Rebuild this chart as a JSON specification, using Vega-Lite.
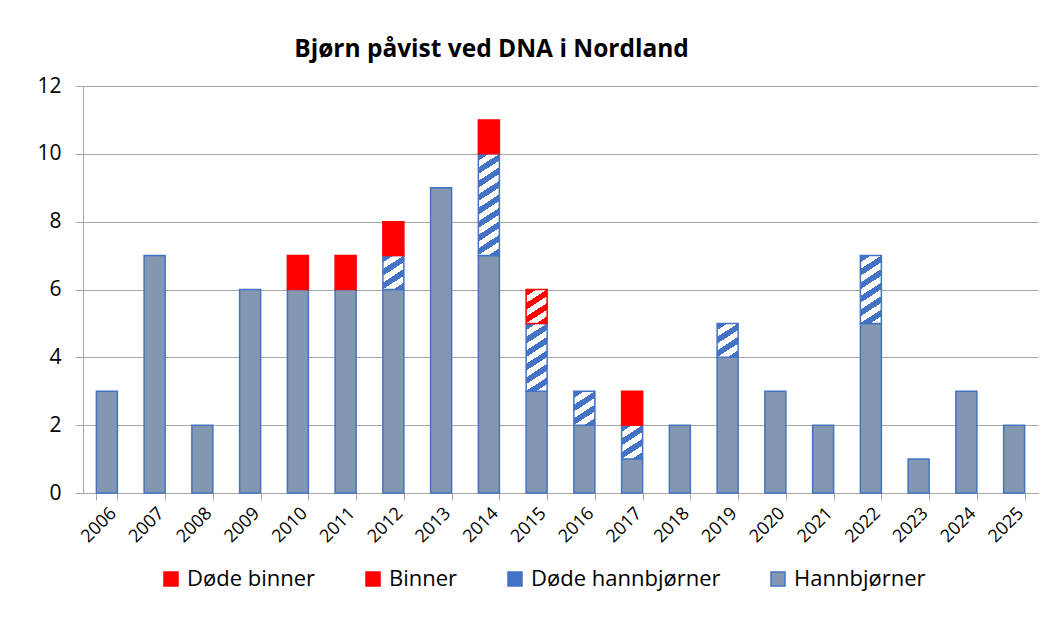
{
  "$schema": "https://vega.github.io/schema/vega-lite/v6.json",
  "autosize": {"type": "none"},
  "padding": {"left": 83, "top": 86, "right": 25, "bottom": 126},
  "width": 955,
  "height": 407,
  "background": "white",
  "title": {"text": "Bjørn påvist ved DNA i Nordland", "font": "Open Sans", "fontSize": 24.5, "fontWeight": "bold", "color": "#000000", "anchor": "middle", "dx": -69, "offset": 13},
  "data": {"values": [
    {"year": "2006", "type": "Hannbjørner", "n": 3},
    {"year": "2007", "type": "Hannbjørner", "n": 7},
    {"year": "2008", "type": "Hannbjørner", "n": 2},
    {"year": "2009", "type": "Hannbjørner", "n": 6},
    {"year": "2010", "type": "Hannbjørner", "n": 6},
    {"year": "2010", "type": "Binner", "n": 1},
    {"year": "2011", "type": "Hannbjørner", "n": 6},
    {"year": "2011", "type": "Binner", "n": 1},
    {"year": "2012", "type": "Hannbjørner", "n": 6},
    {"year": "2012", "type": "Døde hannbjørner", "n": 1},
    {"year": "2012", "type": "Binner", "n": 1},
    {"year": "2013", "type": "Hannbjørner", "n": 9},
    {"year": "2014", "type": "Hannbjørner", "n": 7},
    {"year": "2014", "type": "Døde hannbjørner", "n": 3},
    {"year": "2014", "type": "Binner", "n": 1},
    {"year": "2015", "type": "Hannbjørner", "n": 3},
    {"year": "2015", "type": "Døde hannbjørner", "n": 2},
    {"year": "2015", "type": "Døde binner", "n": 1},
    {"year": "2016", "type": "Hannbjørner", "n": 2},
    {"year": "2016", "type": "Døde hannbjørner", "n": 1},
    {"year": "2017", "type": "Hannbjørner", "n": 1},
    {"year": "2017", "type": "Døde hannbjørner", "n": 1},
    {"year": "2017", "type": "Binner", "n": 1},
    {"year": "2018", "type": "Hannbjørner", "n": 2},
    {"year": "2019", "type": "Hannbjørner", "n": 4},
    {"year": "2019", "type": "Døde hannbjørner", "n": 1},
    {"year": "2020", "type": "Hannbjørner", "n": 3},
    {"year": "2021", "type": "Hannbjørner", "n": 2},
    {"year": "2022", "type": "Hannbjørner", "n": 5},
    {"year": "2022", "type": "Døde hannbjørner", "n": 2},
    {"year": "2023", "type": "Hannbjørner", "n": 1},
    {"year": "2024", "type": "Hannbjørner", "n": 3},
    {"year": "2025", "type": "Hannbjørner", "n": 2}
  ]},
  "transform": [
    {"calculate": "indexof(['Hannbjørner','Døde hannbjørner','Binner','Døde binner'], datum.type)", "as": "ord"}
  ],
  "mark": {"type": "bar", "strokeWidth": 1.5},
  "encoding": {
    "x": {
      "field": "year", "type": "ordinal",
      "scale": {"paddingInner": 0.56, "paddingOuter": 0.28},
      "axis": {"title": null, "labelAngle": -45, "labelFont": "Open Sans", "labelFontSize": 18, "labelColor": "#000000", "tickBand": "extent", "tickSize": 7, "tickColor": "#A6A6A6", "domainColor": "#A6A6A6", "labelPadding": 4, "grid": false}
    },
    "y": {
      "field": "n", "type": "quantitative", "stack": "zero",
      "scale": {"domain": [0, 12], "nice": false},
      "axis": {"title": null, "values": [0, 2, 4, 6, 8, 10, 12], "labelFont": "Open Sans", "labelFontSize": 21, "labelColor": "#000000", "tickSize": 8, "tickColor": "#A6A6A6", "domainColor": "#A6A6A6", "gridColor": "#A6A6A6", "labelPadding": 14}
    },
    "order": {"field": "ord", "type": "quantitative"},
    "fill": {
      "field": "type", "type": "nominal",
      "scale": {"domain": ["Døde binner", "Binner", "Døde hannbjørner", "Hannbjørner"], "range": ["#FF0000", "#FF0000", "#4472C4", "#8497B0"]},
      "condition": [
        {"test": "datum.type === 'Døde hannbjørner' && datum.n === 1", "value": {"gradient": "linear", "x1": 0, "y1": 0, "x2": 0.486, "y2": 1.207, "stops": [
          {"offset": 0, "color": "#4472C4"}, {"offset": 0.142, "color": "#4472C4"}, {"offset": 0.142, "color": "#FFFFFF"}, {"offset": 0.284, "color": "#FFFFFF"},
          {"offset": 0.284, "color": "#4472C4"}, {"offset": 0.426, "color": "#4472C4"}, {"offset": 0.426, "color": "#FFFFFF"}, {"offset": 0.568, "color": "#FFFFFF"},
          {"offset": 0.568, "color": "#4472C4"}, {"offset": 0.710, "color": "#4472C4"}, {"offset": 0.710, "color": "#FFFFFF"}, {"offset": 0.852, "color": "#FFFFFF"},
          {"offset": 0.852, "color": "#4472C4"}, {"offset": 0.994, "color": "#4472C4"}, {"offset": 0.994, "color": "#FFFFFF"}, {"offset": 1, "color": "#FFFFFF"}]}},
        {"test": "datum.type === 'Døde hannbjørner' && datum.n === 2", "value": {"gradient": "linear", "x1": 0, "y1": 0, "x2": 0.2325, "y2": 1.1545, "stops": [
          {"offset": 0, "color": "#4472C4"}, {"offset": 0.0829, "color": "#4472C4"}, {"offset": 0.0829, "color": "#FFFFFF"}, {"offset": 0.1658, "color": "#FFFFFF"},
          {"offset": 0.1658, "color": "#4472C4"}, {"offset": 0.2486, "color": "#4472C4"}, {"offset": 0.2486, "color": "#FFFFFF"}, {"offset": 0.3315, "color": "#FFFFFF"},
          {"offset": 0.3315, "color": "#4472C4"}, {"offset": 0.4144, "color": "#4472C4"}, {"offset": 0.4144, "color": "#FFFFFF"}, {"offset": 0.4973, "color": "#FFFFFF"},
          {"offset": 0.4973, "color": "#4472C4"}, {"offset": 0.5801, "color": "#4472C4"}, {"offset": 0.5801, "color": "#FFFFFF"}, {"offset": 0.6630, "color": "#FFFFFF"},
          {"offset": 0.6630, "color": "#4472C4"}, {"offset": 0.7459, "color": "#4472C4"}, {"offset": 0.7459, "color": "#FFFFFF"}, {"offset": 0.8288, "color": "#FFFFFF"},
          {"offset": 0.8288, "color": "#4472C4"}, {"offset": 0.9116, "color": "#4472C4"}, {"offset": 0.9116, "color": "#FFFFFF"}, {"offset": 0.9945, "color": "#FFFFFF"},
          {"offset": 0.9945, "color": "#4472C4"}, {"offset": 1, "color": "#4472C4"}]}},
        {"test": "datum.type === 'Døde hannbjørner' && datum.n === 3", "value": {"gradient": "linear", "x1": 0, "y1": 0, "x2": 0.1495, "y2": 1.1141, "stops": [
          {"offset": 0, "color": "#4472C4"}, {"offset": 0.0585, "color": "#4472C4"}, {"offset": 0.0585, "color": "#FFFFFF"}, {"offset": 0.1170, "color": "#FFFFFF"},
          {"offset": 0.1170, "color": "#4472C4"}, {"offset": 0.1756, "color": "#4472C4"}, {"offset": 0.1756, "color": "#FFFFFF"}, {"offset": 0.2341, "color": "#FFFFFF"},
          {"offset": 0.2341, "color": "#4472C4"}, {"offset": 0.2926, "color": "#4472C4"}, {"offset": 0.2926, "color": "#FFFFFF"}, {"offset": 0.3511, "color": "#FFFFFF"},
          {"offset": 0.3511, "color": "#4472C4"}, {"offset": 0.4096, "color": "#4472C4"}, {"offset": 0.4096, "color": "#FFFFFF"}, {"offset": 0.4681, "color": "#FFFFFF"},
          {"offset": 0.4681, "color": "#4472C4"}, {"offset": 0.5267, "color": "#4472C4"}, {"offset": 0.5267, "color": "#FFFFFF"}, {"offset": 0.5852, "color": "#FFFFFF"},
          {"offset": 0.5852, "color": "#4472C4"}, {"offset": 0.6437, "color": "#4472C4"}, {"offset": 0.6437, "color": "#FFFFFF"}, {"offset": 0.7022, "color": "#FFFFFF"},
          {"offset": 0.7022, "color": "#4472C4"}, {"offset": 0.7607, "color": "#4472C4"}, {"offset": 0.7607, "color": "#FFFFFF"}, {"offset": 0.8193, "color": "#FFFFFF"},
          {"offset": 0.8193, "color": "#4472C4"}, {"offset": 0.8778, "color": "#4472C4"}, {"offset": 0.8778, "color": "#FFFFFF"}, {"offset": 0.9363, "color": "#FFFFFF"},
          {"offset": 0.9363, "color": "#4472C4"}, {"offset": 0.9948, "color": "#4472C4"}, {"offset": 0.9948, "color": "#FFFFFF"}, {"offset": 1, "color": "#FFFFFF"}]}},
        {"test": "datum.type === 'Døde binner'", "value": {"gradient": "linear", "x1": 0, "y1": 0, "x2": 0.486, "y2": 1.207, "stops": [
          {"offset": 0, "color": "#FF0000"}, {"offset": 0.142, "color": "#FF0000"}, {"offset": 0.142, "color": "#FFFFFF"}, {"offset": 0.284, "color": "#FFFFFF"},
          {"offset": 0.284, "color": "#FF0000"}, {"offset": 0.426, "color": "#FF0000"}, {"offset": 0.426, "color": "#FFFFFF"}, {"offset": 0.568, "color": "#FFFFFF"},
          {"offset": 0.568, "color": "#FF0000"}, {"offset": 0.710, "color": "#FF0000"}, {"offset": 0.710, "color": "#FFFFFF"}, {"offset": 0.852, "color": "#FFFFFF"},
          {"offset": 0.852, "color": "#FF0000"}, {"offset": 0.994, "color": "#FF0000"}, {"offset": 0.994, "color": "#FFFFFF"}, {"offset": 1, "color": "#FFFFFF"}]}}
      ],
      "legend": {
        "title": null, "orient": "none", "legendX": 77, "legendY": 482, "direction": "horizontal",
        "labelFont": "Open Sans", "labelFontSize": 22, "labelColor": "#000000", "labelLimit": 400,
        "symbolType": "square", "symbolSize": 196, "symbolStrokeWidth": 1.5, "symbolOpacity": 1,
        "labelOffset": 5, "columnPadding": 46
      }
    },
    "stroke": {
      "field": "type", "type": "nominal",
      "scale": {"domain": ["Døde binner", "Binner", "Døde hannbjørner", "Hannbjørner"], "range": ["#FF0000", "#FF0000", "#4472C4", "#4472C4"]}
    }
  },
  "config": {
    "view": {"stroke": null},
    "axis": {"gridColor": "#A6A6A6", "gridWidth": 1}
  }
}
